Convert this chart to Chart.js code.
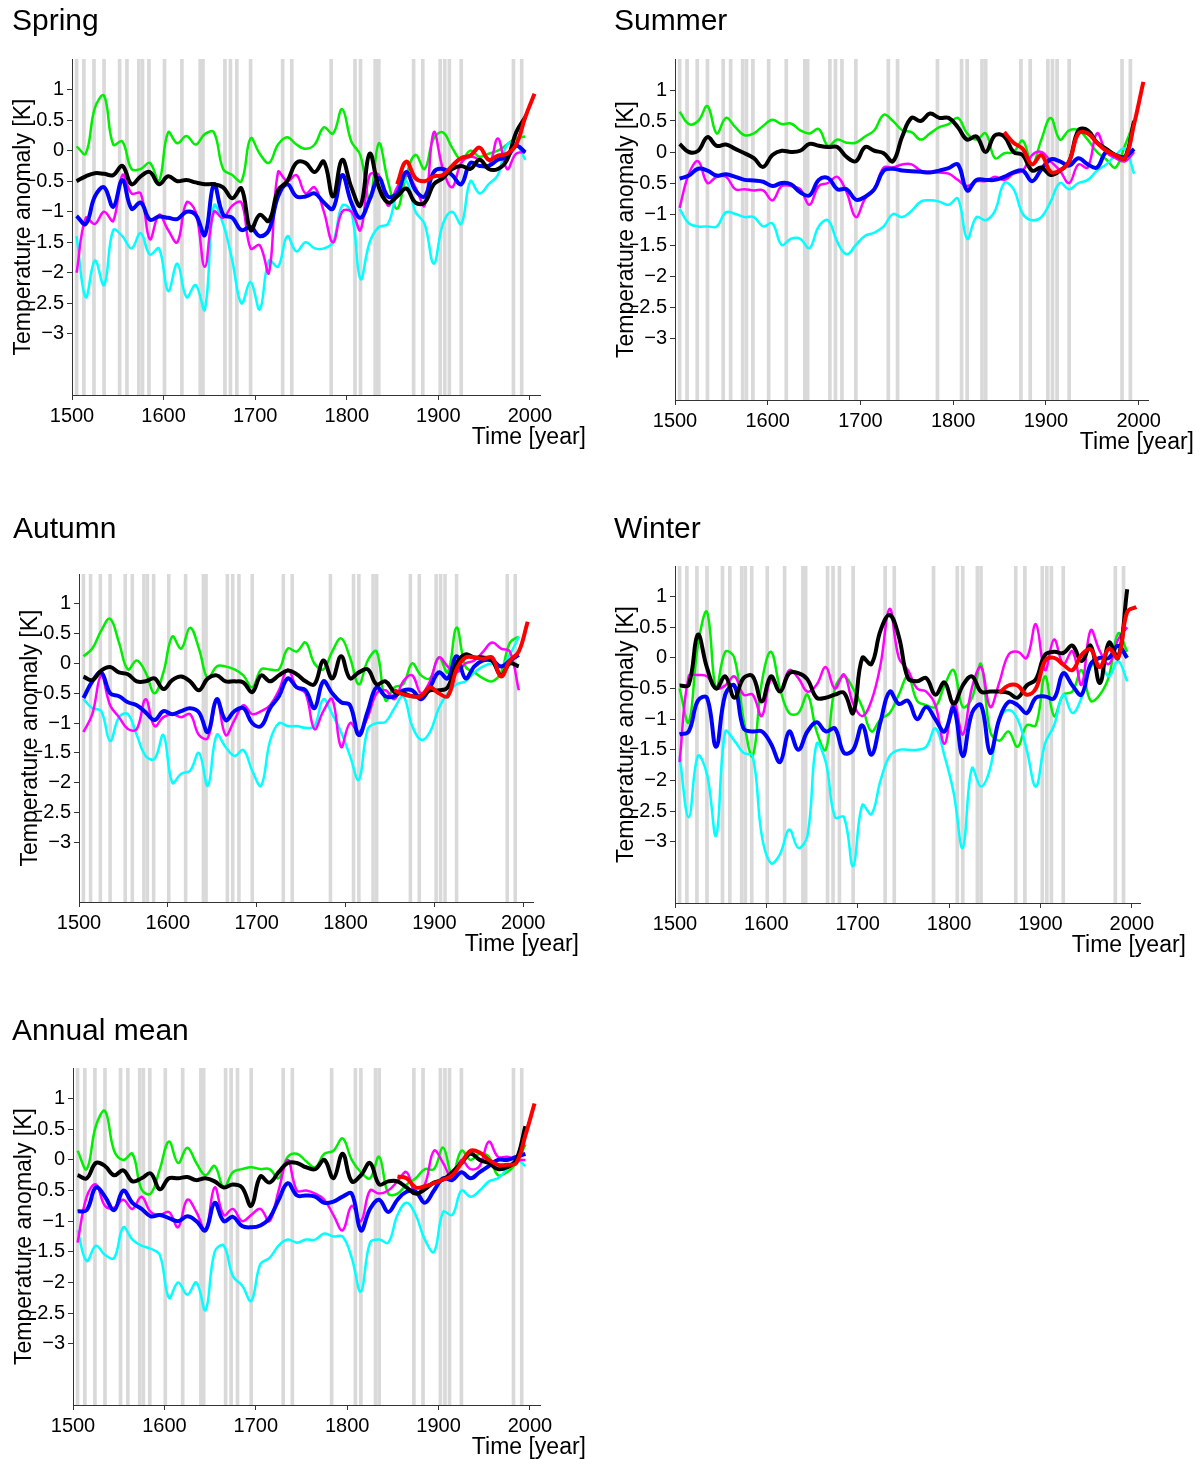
<!DOCTYPE html>
<html>
<head>
<meta charset="utf-8">
<script src="https://cdn.jsdelivr.net/npm/chart.js@4.4.0/dist/chart.umd.min.js"></script>
<style>
  html, body { margin: 0; padding: 0; background: #fff; }
  #page { position: relative; width: 1200px; height: 1459px; overflow: hidden; }
  .panel { position: absolute; }
</style>
</head>
<body>
<div id="page"></div>
<script>
// common time axis of the reconstructions (10-year steps)
const years = [1505, 1515, 1525, 1535, 1545, 1555, 1565, 1575, 1585, 1595,
  1605, 1615, 1625, 1635, 1645, 1655, 1665, 1675, 1685, 1695,
  1705, 1715, 1725, 1735, 1745, 1755, 1765, 1775, 1785, 1795,
  1805, 1815, 1825, 1835, 1845, 1855, 1865, 1875, 1885, 1895,
  1905, 1915, 1925, 1935, 1945, 1955, 1965, 1975, 1985, 1995];
// instrumental (red) series
const redYears = [1855, 1865, 1875, 1885, 1895, 1905, 1915, 1925, 1935, 1945, 1955, 1965, 1975, 1985, 1995, 2005];
// grey bands (volcanic years)
const volcanoYears = [1505, 1513, 1524, 1535, 1552, 1560, 1573, 1577, 1584, 1601, 1620, 1640, 1643,
  1667, 1673, 1680, 1695, 1730, 1740, 1783, 1809, 1815, 1831, 1835, 1873, 1883, 1902, 1907, 1912,
  1925, 1982, 1991];
const xTicks = [1500, 1600, 1700, 1800, 1900, 2000];
const yTicks = [-3, -2.5, -2, -1.5, -1, -0.5, 0, 0.5, 1];

// Spring
const springGreen = [0.07, -0.05, 0.7, 0.9, 0.1, 0.15, -0.3, -0.3, -0.2, -0.5, 0.3, 0.12, 0.24, 0.1, 0.27, 0.3, -0.3, -0.4, -0.5, 0.2, -0.05, -0.2, 0.1, 0.22, 0.1,
  0.03, 0.1, 0.38, 0.28, 0.68, 0.15, -0.08, -0.8, 0.12, -0.5, -0.95, -0.4, -0.07, -0.3, 0.2, 0.3, 0.05, -0.15, 0.0, -0.1, -0.05, 0.0, 0.1, 0.2, 0.23];
const springMagenta = [-2.0, -1.1, -1.2, -1.0, -1.15, -0.4, -0.7, -0.7, -1.45, -1.05, -1.3, -1.5, -0.85, -1.0, -1.9, -1.0, -1.1, -0.9, -0.85, -1.6, -1.55, -2.0, -0.35, -0.5, -0.4,
  -0.7, -0.6, -1.0, -1.5, -1.0, -1.0, -1.3, -0.4, -0.4, -0.9, -0.6, -0.4, -0.6, -0.9, 0.3, -0.3, -0.6, -0.2, -0.1, -0.15, -0.25, 0.2, -0.3, -0.05, -0.02];
const springCyan = [-1.4, -2.4, -1.8, -2.2, -1.3, -1.4, -1.6, -1.35, -1.7, -1.6, -2.3, -1.85, -2.4, -2.2, -2.6, -0.9, -1.2, -1.8, -2.5, -2.15, -2.6, -1.8, -1.9, -1.4, -1.65,
  -1.5, -1.6, -1.6, -1.5, -0.9, -1.0, -2.1, -1.5, -1.25, -1.2, -0.7, -0.5, -1.0, -1.2, -1.85, -1.2, -1.0, -1.2, -0.5, -0.7, -0.55, -0.4, 0.1, 0.1, -0.15];
const springBlue = [-1.07, -1.2, -0.75, -0.6, -0.92, -0.48, -0.95, -0.85, -1.13, -1.08, -1.1, -1.12, -1.0, -1.05, -1.38, -0.55, -1.05, -1.1, -1.3, -1.25, -1.4, -1.3, -0.75, -0.55, -0.75,
  -0.75, -0.7, -0.85, -0.95, -0.4, -0.85, -1.1, -0.8, -0.45, -0.75, -0.7, -0.35, -0.65, -0.75, -0.35, -0.3, -0.4, -0.55, -0.2, -0.25, -0.25, -0.15, -0.1, 0.08, -0.03];
const springBlack = [-0.5, -0.42, -0.37, -0.38, -0.4, -0.25, -0.55, -0.42, -0.35, -0.55, -0.42, -0.5, -0.48, -0.52, -0.55, -0.55, -0.6, -0.78, -0.62, -1.3, -1.05, -1.15, -0.65, -0.5, -0.2,
  -0.2, -0.35, -0.18, -0.75, -0.15, -0.6, -0.9, -0.05, -0.6, -0.85, -0.75, -0.62, -0.85, -0.85, -0.55, -0.45, -0.3, -0.25, -0.3, -0.15, -0.3, -0.3, -0.15, 0.3, 0.55];
const springRed = [-0.55, -0.18, -0.45, -0.5, -0.42, -0.4, -0.25, -0.12, -0.08, 0.05, -0.15, -0.08, -0.05, 0.1, 0.55, 0.93];

// Summer
const summerGreen = [0.65, 0.45, 0.5, 0.74, 0.3, 0.55, 0.4, 0.27, 0.3, 0.42, 0.52, 0.45, 0.46, 0.35, 0.3, 0.37, 0.1, 0.2, 0.15, 0.15, 0.25, 0.35, 0.6, 0.5, 0.35,
  0.32, 0.2, 0.3, 0.4, 0.45, 0.55, 0.3, 0.2, 0.3, -0.1, -0.02, 0.0, 0.18, -0.2, 0.2, 0.55, 0.2, 0.35, 0.35, 0.2, 0.0, -0.12, -0.25, 0.1, 0.48];
const summerMagenta = [-0.9, -0.35, -0.15, -0.5, -0.4, -0.4, -0.6, -0.6, -0.62, -0.62, -0.78, -0.55, -0.55, -0.6, -0.85, -0.55, -0.5, -0.4, -0.65, -1.05, -0.75, -0.6, -0.25, -0.25, -0.2,
  -0.2, -0.3, -0.32, -0.33, -0.35, -0.45, -0.55, -0.47, -0.47, -0.4, -0.45, -0.35, -0.3, -0.05, 0.0, -0.15, -0.3, -0.5, -0.2, -0.25, 0.3, 0.0, -0.1, -0.15, 0.0];
const summerCyan = [-0.92, -1.15, -1.2, -1.2, -1.2, -0.97, -1.0, -1.05, -1.05, -1.2, -1.15, -1.5, -1.4, -1.4, -1.55, -1.2, -1.1, -1.45, -1.65, -1.5, -1.35, -1.3, -1.2, -1.0, -1.05,
  -0.95, -0.8, -0.78, -0.8, -0.85, -0.75, -1.4, -1.05, -1.1, -0.95, -0.5, -0.6, -1.0, -1.1, -1.05, -0.8, -0.5, -0.6, -0.5, -0.45, -0.3, -0.2, -0.05, 0.05, -0.35];
const summerBlue = [-0.43, -0.38, -0.27, -0.3, -0.38, -0.36, -0.4, -0.45, -0.46, -0.48, -0.55, -0.5, -0.52, -0.65, -0.7, -0.45, -0.42, -0.6, -0.6, -0.77, -0.72, -0.6, -0.3, -0.27, -0.3,
  -0.31, -0.32, -0.33, -0.3, -0.26, -0.2, -0.62, -0.45, -0.45, -0.45, -0.4, -0.33, -0.3, -0.47, -0.28, -0.12, -0.15, -0.22, -0.1, -0.2, -0.25, 0.0, -0.05, -0.08, 0.05];
const summerBlack = [0.13, 0.0, 0.02, 0.24, 0.1, 0.12, 0.05, -0.02, -0.1, -0.24, -0.05, 0.02, 0.0, 0.02, 0.13, 0.1, 0.08, 0.08, -0.08, -0.15, 0.08, 0.02, -0.02, -0.15, 0.25,
  0.55, 0.5, 0.62, 0.55, 0.55, 0.4, 0.2, 0.25, 0.0, 0.27, 0.25, 0.0, -0.05, -0.3, -0.25, -0.37, -0.3, -0.15, 0.35, 0.35, 0.15, 0.05, -0.05, -0.1, 0.5];
const summerRed = [0.32, 0.15, 0.05, -0.2, -0.05, -0.32, -0.3, -0.15, 0.3, 0.3, 0.15, 0.02, -0.05, -0.1, 0.45, 1.13];

// Autumn
const autumnGreen = [0.12, 0.25, 0.55, 0.75, 0.35, -0.1, 0.05, -0.15, -0.5, -0.15, 0.45, 0.25, 0.6, 0.25, -0.25, -0.05, -0.05, -0.1, -0.2, -0.4, -0.1, -0.1, -0.1, 0.25, 0.2,
  0.35, 0.0, -0.1, 0.2, 0.42, 0.1, -0.35, 0.05, 0.2, -0.62, -0.4, -0.35, 0.0, -0.2, -0.25, 0.1, -0.15, 0.6, -0.05, -0.15, -0.25, -0.3, -0.15, 0.35, 0.45];
const autumnMagenta = [-1.15, -0.85, -0.2, -0.7, -0.9, -1.1, -1.1, -0.6, -1.05, -0.9, -0.85, -0.9, -0.85, -1.2, -1.25, -0.6, -1.2, -0.95, -0.7, -0.85, -0.8, -0.7, -0.45, -0.1, -0.4,
  -0.5, -1.1, -0.8, -0.6, -1.4, -1.0, -1.15, -0.9, -0.5, -0.45, -0.6, -0.3, -0.2, -0.5, -0.3, 0.1, -0.05, -0.15, 0.0, 0.05, 0.2, 0.35, 0.25, 0.2, -0.45];
const autumnCyan = [-0.6, -0.75, -0.8, -1.3, -0.9, -0.85, -1.2, -1.55, -1.6, -1.2, -2.0, -1.85, -1.8, -1.5, -2.05, -1.2, -1.4, -1.55, -1.45, -1.8, -2.05, -1.3, -1.0, -1.05, -1.05,
  -1.08, -1.05, -0.6, -0.85, -1.15, -1.55, -1.95, -1.1, -1.0, -0.98, -0.75, -0.55, -1.05, -1.28, -1.15, -0.75, -0.5, -0.35, -0.3, -0.15, -0.05, 0.0, -0.05, 0.15, 0.45];
const autumnBlue = [-0.58, -0.3, -0.15, -0.5, -0.55, -0.65, -0.7, -0.82, -0.95, -0.8, -0.85, -0.8, -0.75, -0.82, -1.15, -0.6, -0.95, -0.8, -0.75, -1.0, -1.05, -0.75, -0.55, -0.25, -0.4,
  -0.45, -0.75, -0.3, -0.5, -0.65, -0.7, -1.2, -0.8, -0.4, -0.55, -0.55, -0.45, -0.45, -0.6, -0.4, -0.15, -0.25, 0.12, -0.25, -0.05, 0.05, 0.05, -0.05, 0.05, 0.14];
const autumnBlack = [-0.22, -0.28, -0.12, -0.06, -0.15, -0.18, -0.3, -0.3, -0.25, -0.43, -0.28, -0.22, -0.3, -0.45, -0.25, -0.2, -0.3, -0.3, -0.32, -0.48, -0.2, -0.3, -0.2, -0.12, -0.18,
  -0.3, -0.35, 0.05, -0.25, 0.12, -0.25, -0.15, -0.1, -0.35, -0.3, -0.48, -0.5, -0.55, -0.55, -0.45, -0.45, -0.4, 0.0, 0.15, 0.1, 0.1, 0.05, -0.2, 0.0, -0.05];
const autumnRed = [-0.45, -0.52, -0.55, -0.55, -0.4, -0.5, -0.55, -0.1, 0.1, 0.1, 0.08, 0.1, -0.22, 0.05, 0.2, 0.7];

// Winter
const winterGreen = [-0.5, -1.05, 0.2, 0.75, -0.5, 0.1, 0.0, -1.0, -1.6, -0.4, 0.1, -0.5, -0.9, -0.9, -0.6, -1.2, -1.5, -0.5, -0.3, -0.5, -0.8, -1.2, -1.0, -0.9, -0.6,
  -0.3, -0.7, -0.77, -0.8, -0.45, -0.2, -0.8, -0.66, -0.1, -1.2, -1.35, -1.2, -1.45, -1.1, -1.1, -0.3, -0.95, -0.6, -0.55, -0.2, -0.7, -0.6, -0.3, 0.4, 0.1];
const winterMagenta = [-1.7, -0.3, -0.28, -0.3, -0.5, -0.45, -0.3, -0.6, -0.6, -0.95, -0.35, -0.55, -0.2, -0.33, -0.55, -0.44, -0.15, -0.5, -0.27, -0.75, -0.95, -0.7, -0.11, 0.8, 0.0,
  -0.2, -0.5, -0.55, -0.77, -1.4, -0.71, -1.25, -0.49, -0.15, -0.8, -0.4, 0.05, 0.1, 0.0, 0.55, -0.2, 0.3, -0.1, 0.11, -0.44, 0.45, 0.11, -0.1, 0.3, 0.5];
const winterCyan = [-1.6, -2.6, -1.6, -1.9, -2.9, -1.2, -1.35, -1.55, -1.6, -2.9, -3.35, -3.2, -2.8, -3.1, -2.9, -1.4, -1.7, -2.6, -2.6, -3.4, -2.4, -2.55, -2.0, -1.6, -1.5,
  -1.5, -1.5, -1.45, -1.15, -1.6, -2.2, -3.1, -1.8, -2.1, -1.8, -1.0, -0.85, -1.0, -1.5, -2.1, -1.4, -1.1, -0.6, -0.9, -0.65, -0.15, -0.1, -0.3, -0.05, -0.38];
const winterBlue = [-1.25, -1.2, -0.7, -0.65, -1.45, -0.6, -0.45, -1.15, -1.2, -1.2, -1.4, -1.7, -1.2, -1.5, -1.2, -1.05, -1.2, -1.15, -1.55, -1.5, -1.1, -1.58, -1.04, -0.55, -0.75,
  -0.7, -1.0, -0.8, -1.0, -1.2, -0.82, -1.6, -0.9, -0.77, -1.55, -1.0, -0.72, -0.77, -0.9, -0.65, -0.63, -0.66, -0.25, -0.45, -0.6, -0.1, 0.0, 0.0, 0.2, 0.0];
const winterBlack = [-0.45, -0.44, 0.38, -0.16, -0.5, -0.3, -0.65, -0.33, -0.3, -0.71, -0.3, -0.55, -0.25, -0.25, -0.35, -0.65, -0.65, -0.6, -0.57, -0.9, 0.0, -0.1, 0.45, 0.7, 0.35,
  -0.33, -0.38, -0.33, -0.6, -0.4, -0.75, -0.45, -0.3, -0.55, -0.55, -0.55, -0.57, -0.65, -0.45, -0.35, 0.05, 0.1, 0.08, 0.2, -0.05, 0.2, -0.41, 0.25, 0.0, 1.12];
const winterRed = [-0.57, -0.45, -0.45, -0.6, -0.5, -0.05, 0.0, -0.11, -0.2, 0.05, 0.14, -0.15, 0.15, 0.0, 0.75, 0.83];

// Annual mean
const annualGreen = [0.15, -0.15, 0.55, 0.8, 0.15, 0.0, 0.1, -0.48, -0.55, -0.15, 0.3, -0.05, 0.2, -0.05, -0.25, -0.1, -0.45, -0.2, -0.15, -0.12, -0.15, -0.15, -0.3, 0.05, 0.1,
  -0.02, -0.12, 0.1, 0.15, 0.35, 0.0, -0.2, -0.3, 0.05, -0.55, -0.55, -0.4, -0.3, -0.15, -0.15, 0.2, -0.25, 0.15, 0.0, 0.1, 0.05, -0.25, -0.2, -0.05, 0.25];
const annualMagenta = [-1.35, -0.6, -0.4, -0.75, -0.78, -0.65, -0.8, -0.6, -0.85, -0.9, -0.85, -1.1, -0.65, -0.85, -1.15, -0.45, -0.9, -0.8, -1.0, -0.9, -0.8, -1.0, -0.5, 0.0, -0.5,
  -0.5, -0.55, -0.65, -0.9, -1.15, -0.75, -1.0, -0.5, -0.55, -0.5, -0.35, -0.2, -0.55, -0.4, 0.15, -0.05, -0.3, 0.0, -0.15, -0.1, 0.3, 0.05, 0.05, 0.0, 0.0];
const annualCyan = [-1.15, -1.65, -1.4, -1.55, -1.6, -1.1, -1.3, -1.4, -1.45, -1.55, -2.25, -2.0, -2.2, -2.0, -2.45, -1.5, -1.4, -1.9, -2.05, -2.3, -1.7, -1.6, -1.4, -1.3, -1.35,
  -1.3, -1.3, -1.2, -1.25, -1.25, -1.6, -2.15, -1.35, -1.3, -1.35, -0.9, -0.7, -0.9, -1.3, -1.5, -0.85, -0.9, -0.5, -0.6, -0.5, -0.35, -0.3, -0.15, 0.0, -0.1];
const annualBlue = [-0.84, -0.82, -0.45, -0.6, -0.82, -0.5, -0.7, -0.8, -0.92, -0.9, -0.95, -1.0, -0.92, -1.0, -1.15, -0.7, -1.0, -0.93, -1.08, -1.1, -1.07, -0.95, -0.65, -0.38, -0.58,
  -0.58, -0.6, -0.7, -0.68, -0.6, -0.55, -1.15, -0.8, -0.65, -0.85, -0.65, -0.52, -0.52, -0.7, -0.5, -0.3, -0.33, -0.2, -0.3, -0.2, -0.1, 0.0, 0.0, 0.05, 0.1];
const annualBlack = [-0.25, -0.3, -0.05, -0.1, -0.25, -0.17, -0.35, -0.3, -0.22, -0.48, -0.3, -0.3, -0.28, -0.33, -0.3, -0.35, -0.45, -0.4, -0.45, -0.75, -0.27, -0.37, -0.2, -0.05, -0.05,
  -0.12, -0.15, 0.0, -0.3, 0.1, -0.35, -0.25, -0.05, -0.4, -0.35, -0.35, -0.45, -0.55, -0.48, -0.37, -0.32, -0.2, -0.05, 0.1, 0.0, -0.05, -0.15, -0.12, 0.0, 0.55];
const annualRed = [-0.27, -0.3, -0.45, -0.43, -0.38, -0.32, -0.25, -0.05, 0.15, 0.12, 0.0, -0.08, -0.08, -0.05, 0.4, 0.92];

// panel placement on the page (chart area = left, top, right, bottom)
const panels = [
  { title: "Spring", left: 0, top: 0, width: 600, height: 500, area: [72, 59, 540, 395], xMax: 2011, titleX: 12, titleY: 22,
    series: [springGreen, springCyan, springMagenta, springBlue, springBlack, springRed] },
  { title: "Summer", left: 600, top: 0, width: 600, height: 500, area: [675, 59, 1148, 400], xMax: 2010, titleX: 614, titleY: 22,
    series: [summerGreen, summerCyan, summerMagenta, summerBlue, summerBlack, summerRed] },
  { title: "Autumn", left: 0, top: 500, width: 600, height: 500, area: [79, 574, 533, 902], xMax: 2011, titleX: 13, titleY: 530,
    series: [autumnGreen, autumnCyan, autumnMagenta, autumnBlue, autumnBlack, autumnRed] },
  { title: "Winter", left: 600, top: 500, width: 600, height: 500, area: [675, 566, 1140, 903], xMax: 2009, titleX: 614, titleY: 530,
    series: [winterGreen, winterCyan, winterMagenta, winterBlue, winterBlack, winterRed] },
  { title: "Annual mean", left: 0, top: 1000, width: 600, height: 459, area: [73, 1068, 540, 1405], xMax: 2011, titleX: 12, titleY: 1032,
    series: [annualGreen, annualCyan, annualMagenta, annualBlue, annualBlack, annualRed] }
];

const FONT = '"Liberation Sans", Arial, Helvetica, sans-serif';
Chart.defaults.font.family = FONT;
const Y_W = 45, X_H = 45;

function line(xs, ys, color, width) {
  return {
    data: xs.map((x, i) => ({ x: x, y: ys[i] })),
    borderColor: color,
    borderWidth: width,
    pointRadius: 0,
    tension: 0.4,
    fill: false
  };
}

function decorPlugin(p) {
  return {
    id: "decor",
    beforeDraw(chart) {
      // grey volcanic bands
      const { ctx, chartArea, scales } = chart;
      const x = scales.x;
      ctx.save();
      ctx.beginPath();
      ctx.rect(chartArea.left, chartArea.top, chartArea.right - chartArea.left, chartArea.bottom - chartArea.top);
      ctx.clip();
      ctx.fillStyle = "#d9d9d9";
      volcanoYears.forEach(function (yr) {
        const a = x.getPixelForValue(yr - 2);
        const b = x.getPixelForValue(yr + 2);
        ctx.fillRect(a, chartArea.top, b - a, chartArea.bottom - chartArea.top);
      });
      ctx.restore();
    },
    afterDraw(chart) {
      const { ctx, chartArea } = chart;
      ctx.save();
      ctx.fillStyle = "#000";
      // panel title
      ctx.font = "30px " + FONT;
      ctx.textAlign = "left";
      ctx.textBaseline = "middle";
      ctx.fillText(p.title, p.titleX - p.left, p.titleY - p.top);
      // x title
      ctx.font = "23px " + FONT;
      ctx.textAlign = "right";
      ctx.fillText("Time [year]", chartArea.right + 46, chartArea.bottom + 43);
      // y title (overlaps tick labels like the original)
      ctx.translate(chartArea.left - 48, (chartArea.top + chartArea.bottom) / 2);
      ctx.rotate(-Math.PI / 2);
      ctx.textAlign = "center";
      ctx.fillText("Temperature anomaly [K]", 0, 0);
      ctx.restore();
    }
  };
}

const page = document.getElementById("page");

panels.forEach(function (p) {
  const div = document.createElement("div");
  div.className = "panel";
  div.style.left = p.left + "px";
  div.style.top = p.top + "px";
  const canvas = document.createElement("canvas");
  canvas.width = p.width;
  canvas.height = p.height;
  canvas.style.width = p.width + "px";
  canvas.style.height = p.height + "px";
  div.appendChild(canvas);
  page.appendChild(div);

  const [L, T, R, B] = p.area;
  const s = p.series;
  // first dataset is drawn on top
  const datasets = [
    line(redYears, s[5], "#ff0000", 4),
    line(years, s[4], "#000000", 4),
    line(years, s[3], "#0000ff", 4),
    line(years, s[2], "#ff00ff", 2.5),
    line(years, s[1], "#00ffff", 2.5),
    line(years, s[0], "#00ee00", 2.5)
  ];

  new Chart(canvas, {
    type: "line",
    data: { datasets: datasets },
    options: {
      responsive: false,
      animation: false,
      layout: {
        padding: {
          left: L - p.left - Y_W,
          top: T - p.top,
          right: p.left + p.width - R,
          bottom: p.top + p.height - B - X_H
        }
      },
      plugins: { legend: { display: false }, tooltip: { enabled: false }, title: { display: false } },
      scales: {
        x: {
          type: "linear",
          min: 1500,
          max: p.xMax,
          afterFit: function (sc) { sc.height = X_H; },
          afterBuildTicks: function (sc) { sc.ticks = xTicks.map(function (v) { return { value: v }; }); },
          ticks: { color: "#000", font: { size: 20 }, padding: 4, maxRotation: 0, callback: function (v) { return String(v); } },
          grid: { drawOnChartArea: false, tickLength: 5, color: "#333" },
          border: { display: true, color: "#333", width: 1 }
        },
        y: {
          type: "linear",
          min: -4,
          max: 1.5,
          afterFit: function (sc) { sc.width = Y_W; },
          afterBuildTicks: function (sc) { sc.ticks = yTicks.map(function (v) { return { value: v }; }); },
          ticks: {
            color: "#000", font: { size: 20 }, padding: 3,
            callback: function (v) { return v < 0 ? "\u2212" + Math.abs(v) : String(v); }
          },
          grid: { drawOnChartArea: false, tickLength: 5, color: "#333" },
          border: { display: true, color: "#333", width: 1 }
        }
      }
    },
    plugins: [decorPlugin(p)]
  });
});
</script>
</body>
</html>
